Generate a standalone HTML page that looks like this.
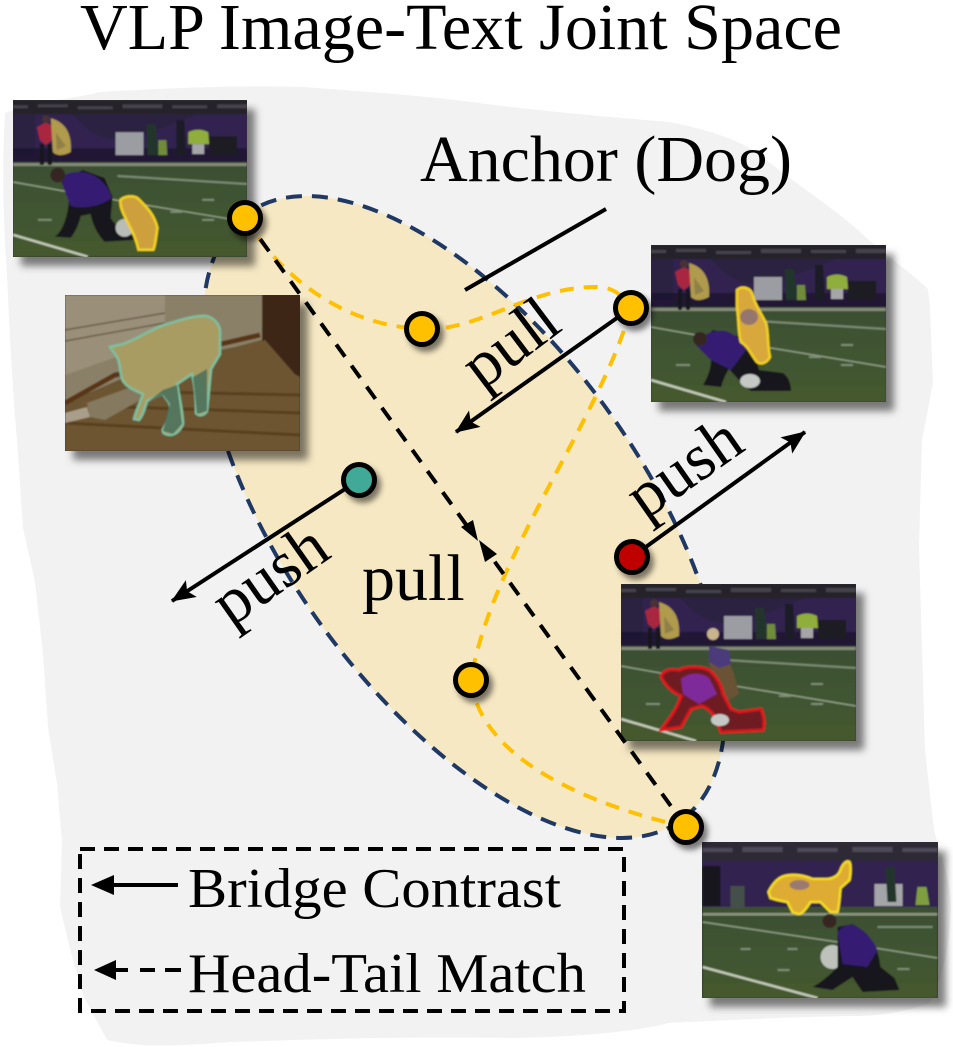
<!DOCTYPE html>
<html><head><meta charset="utf-8"><style>
html,body{margin:0;padding:0;background:#fff;width:953px;height:1047px;overflow:hidden}
text{font-family:"Liberation Serif",serif;fill:#000}
</style></head><body>
<svg width="953" height="1047" viewBox="0 0 953 1047" xmlns="http://www.w3.org/2000/svg" style="display:block">
<defs>
<filter id="sh" x="-20%" y="-20%" width="140%" height="140%"><feDropShadow dx="8" dy="9" stdDeviation="4" flood-color="#000" flood-opacity=".5"/></filter>
<filter id="ns" x="-50%" y="-50%" width="220%" height="220%"><feDropShadow dx="4" dy="5" stdDeviation="3" flood-color="#000" flood-opacity=".5"/></filter>
<filter id="bl" x="-5%" y="-5%" width="110%" height="110%"><feGaussianBlur stdDeviation="0.9"/></filter>
<marker id="ah" markerUnits="userSpaceOnUse" viewBox="0 0 24 20" refX="23" refY="10" markerWidth="24" markerHeight="20" orient="auto"><path d="M0 0L24 10L0 20L5 10Z" fill="#000"/></marker>
<linearGradient id="fld" x1="0" y1="0" x2="0" y2="1"><stop offset="0" stop-color="#3a4f30"/><stop offset="1" stop-color="#45592f"/></linearGradient>
<g id="bg">
<rect width="235" height="157" fill="#3d5230"/>
<rect width="235" height="62" fill="#33244f"/>
<rect width="235" height="14" fill="#25222c"/>
<path d="M0 5h15v3h-15zM25 4h30v3h-30zM65 6h35v3h-35zM110 4h40v4h-40zM160 5h35v3h-35zM205 4h30v4h-30z" fill="#45424c"/>
<path d="M60 14Q85 45 115 38T185 14Z" fill="#2a2040"/>
<path d="M0 14H22V55H0Z" fill="#2b2240"/>
<rect y="48" width="235" height="16" fill="#1b1630" opacity=".8"/>
<rect y="62" width="235" height="95" fill="url(#fld)"/>
<rect y="63" width="235" height="3" fill="#858c78"/>
<path d="M0 82L90 98L235 122" stroke="#8f9e85" stroke-width="1.5" fill="none"/>
<path d="M0 135L75 157" stroke="#c2c9b8" stroke-width="2.5" fill="none"/>
<path d="M105 76L235 84M25 120h14M190 120h12M158 112h12M190 100h12" stroke="#7e8e76" stroke-width="2" fill="none"/>
<path d="M24 27L33 22L42 27L39 40L33 45L27 40Z" fill="#a82840"/><circle cx="33" cy="19" r="4" fill="#4a3034"/>
<path d="M27 44h4v21h-4zM35 44h4v21h-4z" fill="#17161b"/>
<path d="M38 18Q60 24 58 52Q46 58 40 52Z" fill="#b09a4c"/><path d="M43 32L53 46L44 50Z" fill="#8f8048"/>
<rect x="103" y="32" width="28" height="23" fill="#9c9da2"/>
<path d="M134 24h9l3 31h-11Z" fill="#24352a"/><path d="M146 40h8l1 15h-9z" fill="#6f8c3a"/><path d="M164 20h8l2 35h-10z" fill="#1d1c26"/>
<path d="M176 32q10-5 20 0l1 12h-21z" fill="#8fae3a"/><rect x="180" y="44" width="12" height="10" fill="#a6a6aa"/>
<rect x="197" y="36" width="28" height="19" fill="#1e1e22"/>
</g>
</defs>

<path d="M5 113C40 100 80 98 100 92C170 88 240 85 304 87C370 92 430 96 486 104C550 112 620 118 669 122C710 130 740 140 760 155C790 180 830 205 860 232C885 255 910 272 928 289L930 308L933 383L922 440L919 546L925 750L934 830C942 860 950 880 951 905C950 950 940 985 930 1003C905 1012 880 1016 851 1016C790 1017 730 1020 669 1023C640 1030 600 1036 517 1038C400 1036 300 1040 230 1042C180 1046 140 1048 107 1040L83 995L70 949L60 907L62 842L57 784L48 727L43 654L35 582L23 528L17 440C15 420 10 350 7 273C3 220 2 160 5 113Z" fill="#f2f2f2"/>

<ellipse cx="464" cy="517" rx="373" ry="179" transform="rotate(54.5 464 517)" fill="#f6e8c3" stroke="#1f3864" stroke-width="4" stroke-dasharray="16 10"/>

<text x="80" y="49" font-size="66" textLength="762" lengthAdjust="spacingAndGlyphs">VLP Image-Text Joint Space</text>
<text x="420" y="181" font-size="66" textLength="372" lengthAdjust="spacingAndGlyphs">Anchor (Dog)</text>

<!-- photo 1 -->
<rect x="13" y="100" width="234" height="157" fill="#333" filter="url(#sh)"/>
<svg x="13" y="100" width="234" height="157" viewBox="0 0 235 157"><g filter="url(#bl)"><use href="#bg"/>
<path d="M42 137C52 130 56 110 56 100L48 80L70 70L92 78L100 97L98 118C105 130 118 132 125 140L92 142C85 135 80 125 78 114L68 116C66 125 62 133 58 138Z" fill="#15151f"/>
<path d="M50 76C60 70 75 70 88 80C94 86 98 92 99 98C90 106 70 110 58 106C54 95 48 85 50 76Z" fill="#361b72"/>
<circle cx="45" cy="75" r="7.5" fill="#352724"/>
<ellipse cx="112" cy="128" rx="9" ry="9" fill="#b9bdb8"/>
<path d="M108 100C112 96 122 95 126 99C135 108 142 115 145 128C144 136 142 148 141 150L126 150C124 140 120 132 116 124C112 116 107 108 108 100Z" fill="#cda03e" stroke="#f2d21e" stroke-width="2.5"/>
</g></svg>

<!-- photo dog -->
<rect x="65" y="295" width="235" height="156" fill="#333" filter="url(#sh)"/>
<svg x="65" y="295" width="235" height="156" viewBox="0 0 235 156"><g filter="url(#bl)">
<rect width="235" height="156" fill="#6b5433"/>
<path d="M0 0H200V44L170 52L120 62L70 78L0 108Z" fill="#8a8068"/>
<path d="M0 0H100V45L0 80Z" fill="#9a8f78"/>
<path d="M0 35L100 18M0 46L100 28" stroke="#6a5c4c" stroke-width="1.5"/>
<path d="M0 108L50 80L95 72L130 55L195 40" stroke="#583418" stroke-width="5" fill="none"/>
<path d="M197 0H235V82L212 70L197 60Z" fill="#3d2714"/>
<path d="M130 70L200 45L235 85V156H0V125L25 100L60 90Z" fill="#6d5431"/>
<path d="M0 128L235 140M60 112L235 118M90 97L235 100" stroke="#58401f" stroke-width="3" fill="none"/>
<path d="M0 118L22 112L25 122L0 128Z" fill="#a89e8a"/>
<path d="M22 108L72 90L84 100L40 125L25 122Z" fill="#85795f"/>
<path d="M45 52L58 49C70 45 90 32 102 29C115 25 130 20 142 21C150 24 156 30 155 40L155 59L146 74L142 116C140 120 134 122 131 118C131 105 130 90 127 79C122 82 117 86 112 89C114 100 118 118 118 129C116 134 112 139 106 140C100 140 97 138 98 134C102 128 106 118 105 109L98 99C92 101 88 103 82 106C80 113 78 120 74 125L69 124C71 115 76 106 78 99C70 96 62 92 58 86C54 78 56 68 52 62Z" fill="#a89c62" stroke="#7dbf9f" stroke-width="2.5"/>
<path d="M128 82L142 74L142 116L132 119ZM84 106L98 100L105 109L98 136L108 139L117 129L112 90L98 95Z" fill="#456e5a" opacity=".85"/>
</g></svg>

<!-- photo 3 -->
<rect x="651" y="245" width="235" height="157" fill="#333" filter="url(#sh)"/>
<svg x="651" y="245" width="235" height="157" viewBox="0 0 235 157"><g filter="url(#bl)"><use href="#bg"/>
<path d="M52 140C58 130 60 122 60 115L45 100L62 85L90 92C100 100 105 112 108 125L132 128C138 132 140 140 140 146L100 146C92 140 85 132 78 124C74 130 72 136 70 142Z" fill="#15151f"/>
<path d="M45 100C50 90 62 84 75 86C85 90 92 96 95 105L80 125L60 115Z" fill="#361b72"/>
<circle cx="49" cy="94" r="7" fill="#352724"/>
<ellipse cx="99" cy="136" rx="10" ry="7" fill="#c5c9c5"/>
<path d="M86 45C90 41 98 42 101 48C103 58 110 68 115 78C118 90 116 100 119 112C116 118 110 120 106 117C100 110 98 102 90 97C87 88 88 75 86 62Z" fill="#d8a83e" stroke="#f2d21e" stroke-width="2.5"/>
<ellipse cx="98" cy="72" rx="9" ry="8" fill="#94766c"/>
</g></svg>

<!-- photo 4 -->
<rect x="621" y="584" width="235" height="157" fill="#333" filter="url(#sh)"/>
<svg x="621" y="584" width="235" height="157" viewBox="0 0 235 157"><g filter="url(#bl)"><use href="#bg"/>
<path d="M90 62L105 70L113 90L118 110L105 118L95 95L88 80Z" fill="#6a5236"/>
<path d="M88 62L108 66L110 80L98 84L88 78Z" fill="#4c3a7a"/>
<circle cx="92" cy="50" r="6" fill="#c8b58c"/>
<path d="M40 92C44 85 50 85 58 86C65 82 80 82 88 86C95 92 100 100 102 110L110 125L118 128L140 125C143 132 144 140 142 146L100 148L92 130C88 126 84 122 80 122L70 125L60 143L40 146C48 135 56 125 60 112C52 108 44 102 40 92Z" fill="#6e1a20" stroke="#e0181c" stroke-width="3"/>
<path d="M60 95C68 88 80 88 88 94L96 110L78 120L62 110Z" fill="#7f2a9a"/>
<ellipse cx="99" cy="136" rx="9" ry="6" fill="#c5c9c5"/>
</g></svg>

<!-- photo 5 -->
<rect x="702" y="842" width="236" height="156" fill="#333" filter="url(#sh)"/>
<svg x="702" y="842" width="236" height="156" viewBox="0 0 235 156"><g filter="url(#bl)">
<rect width="235" height="156" fill="#3d5230"/>
<rect width="235" height="65" fill="#33244f"/>
<rect width="235" height="19" fill="#2e2a36"/>
<path d="M0 6h30v4h-30zM40 5h40v5h-40zM95 6h40v4h-40zM150 5h40v5h-40zM200 6h35v4h-35z" fill="#4e4a56"/>
<rect x="0" y="24" width="18" height="40" fill="#17171b"/><rect x="28" y="44" width="14" height="22" fill="#45504a"/>
<rect x="172" y="42" width="28" height="22" fill="#a4a5a8"/><path d="M183 25h9l2 35h-9z" fill="#24352a"/><path d="M215 45h9l3 18h-14z" fill="#7f9e40"/>
<rect y="66" width="235" height="90" fill="url(#fld)"/>
<rect y="71" width="235" height="2.5" fill="#8e9682"/>
<path d="M0 80L135 100L235 116" stroke="#8f9e85" stroke-width="1.5" fill="none"/>
<path d="M0 125L115 156" stroke="#c2c9b8" stroke-width="2.5" fill="none"/>
<path d="M38 107h10M85 107h10M75 128h12M195 127h12M175 85h55" stroke="#7e8e76" stroke-width="2" fill="none"/>
<ellipse cx="130" cy="115" rx="12" ry="12" fill="#bfc2bc"/>
<path d="M110 145C120 140 130 130 135 125L135 85L150 82C165 90 175 100 178 125L192 136L197 148L160 150L150 135L130 148Z" fill="#15151f"/>
<path d="M135 90C140 84 148 80 155 85C165 92 172 100 175 108L165 125L140 122Z" fill="#361b72"/>
<circle cx="127" cy="79" r="7" fill="#352724"/>
<path d="M66 50C70 42 75 36 82 34C90 32 100 33 110 37L124 37C130 37 136 34 138 28C140 22 144 18 147 20C149 25 148 32 147 38L138 46C137 55 137 62 135 70L128 70L118 60L108 60C104 66 100 72 96 72L90 70L85 60L75 58L68 56Z" fill="#deac32" stroke="#f5dc1e" stroke-width="2.5"/>
<ellipse cx="97" cy="43" rx="10" ry="5" fill="#9a7a70"/>
</g></svg>

<!-- yellow dashed curves -->
<g fill="none" stroke="#ffc000" stroke-width="4" stroke-dasharray="14 10">
<path d="M245 218C280 275 340 325 422 329"/>
<path d="M422 329C480 332 530 285 600 287C615 288 625 298 631 308"/>
<path d="M631 308C600 420 490 560 471 680"/>
<path d="M471 680C480 760 590 805 686 827"/>
</g>
<!-- black dashed head-tail -->
<g fill="none" stroke="#000" stroke-width="4">
<path d="M245 218L470 530" stroke-dasharray="15 11"/>
<path d="M686 827L487 551" stroke-dasharray="15 11"/>
</g>
<path d="M478 541L461 527L473 520Z" fill="#000"/>
<path d="M479 540L497 554L485 562Z" fill="#000"/>

<!-- solid arrows -->
<g stroke="#000" stroke-width="4" fill="none">
<path d="M606 209L465 290"/>
<path d="M631 308L456 432" marker-end="url(#ah)"/>
<path d="M359 480L172 601" marker-end="url(#ah)"/>
<path d="M632 557L805 432" marker-end="url(#ah)"/>
</g>

<!-- nodes -->
<g stroke="#000" stroke-width="5" filter="url(#ns)">
<circle cx="245" cy="218" r="15.5" fill="#ffc000"/>
<circle cx="422" cy="329" r="15.5" fill="#ffc000"/>
<circle cx="631" cy="308" r="15.5" fill="#ffc000"/>
<circle cx="471" cy="680" r="15.5" fill="#ffc000"/>
<circle cx="686" cy="827" r="15.5" fill="#ffc000"/>
<circle cx="359" cy="480" r="15.5" fill="#41a998"/>
<circle cx="632" cy="557" r="15.5" fill="#c00000"/>
</g>

<text font-size="66" text-anchor="middle" transform="translate(523 360) rotate(-37)">pull</text>
<text font-size="66" text-anchor="middle" transform="translate(282 592) rotate(-35)">push</text>
<text font-size="66" text-anchor="middle" transform="translate(696 485) rotate(-35)">push</text>
<text x="362" y="600" font-size="66">pull</text>

<!-- legend -->
<rect x="80" y="849" width="544" height="162" fill="none" stroke="#000" stroke-width="4" stroke-dasharray="15 9"/>
<path d="M178 885H110" stroke="#000" stroke-width="4"/>
<path d="M91 885L114 875V895Z" fill="#000"/>
<path d="M112 970H128M140 970H155M165 970H181" stroke="#000" stroke-width="4"/>
<path d="M94 970L116 960V980Z" fill="#000"/>
<text x="188" y="907" font-size="56" textLength="373" lengthAdjust="spacingAndGlyphs">Bridge Contrast</text>
<text x="188" y="992" font-size="56" textLength="398" lengthAdjust="spacingAndGlyphs">Head-Tail Match</text>
</svg>
</body></html>
